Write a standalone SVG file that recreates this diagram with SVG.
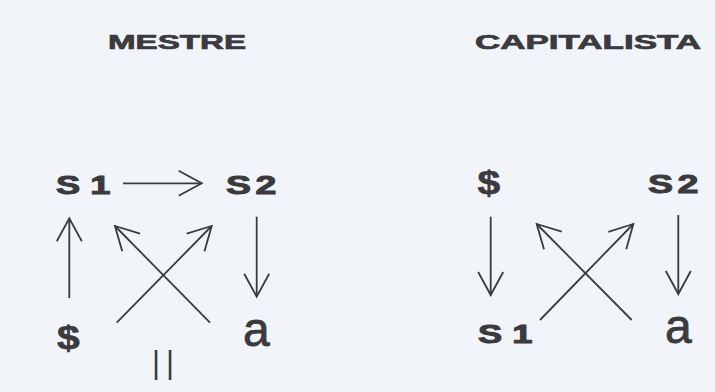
<svg xmlns="http://www.w3.org/2000/svg" width="715" height="392" viewBox="0 0 715 392">
  <style>
    .title { font-family: "Liberation Sans", Arial, sans-serif; font-weight: bold; font-size: 20px; fill: #3b3b3f; stroke: #3b3b3f; stroke-width: 0.7px; }
    .sym { font-family: "Liberation Sans", Arial, sans-serif; font-weight: bold; font-size: 25px; fill: #3b3b3f; stroke: #3b3b3f; stroke-width: 1px; }
    .dollar { font-family: "Liberation Sans", Arial, sans-serif; font-weight: bold; font-size: 34px; fill: #3b3b3f; stroke: #3b3b3f; stroke-width: 0.6px; }
    .obj { font-family: "Liberation Sans", Arial, sans-serif; font-size: 48px; fill: #3b3b3f; stroke: #3b3b3f; stroke-width: 0.8px; }
    .bar { font-family: "Liberation Sans", Arial, sans-serif; font-size: 31px; fill: #3b3b3f; letter-spacing: 6px; }
    .link { fill: none; stroke: #3b3b3f; stroke-width: 1.8; marker-end: url(#chevron); }
  </style>
  <defs>
    <marker id="chevron" viewBox="-26 -15 28 30" markerWidth="28" markerHeight="30" refX="0" refY="0" orient="auto" markerUnits="userSpaceOnUse" overflow="visible">
      <path d="M-23,-12.5 L0,0 L-23,12.5" fill="none" stroke="#3b3b3f" stroke-width="1.8" stroke-linejoin="miter"/>
    </marker>
  </defs>

  <rect width="715" height="392" fill="#f1f4f8"/>

  <!-- discourse titles -->
  <g id="title-mestre">
    <text class="title" x="108" y="48.5" textLength="138" lengthAdjust="spacingAndGlyphs">MESTRE</text>
  </g>
  <g id="title-capitalista">
    <text class="title" x="475" y="48.5" textLength="226" lengthAdjust="spacingAndGlyphs">CAPITALISTA</text>
  </g>

  <!-- master's discourse -->
  <g id="m-s1">
    <text class="sym" transform="translate(56,193.5) scale(1.45,1)">S<tspan dx="7">1</tspan></text>
  </g>
  <g id="m-s2">
    <text class="sym" transform="translate(226,193.5) scale(1.5,1)">S<tspan dx="3">2</tspan></text>
  </g>
  <g id="m-sbarre">
    <text class="dollar" transform="translate(57,348.5) scale(1.2,1)">$</text>
  </g>
  <g id="m-a">
    <text class="obj" x="243" y="346">a</text>
  </g>
  <g id="m-impossible">
    <text class="bar" x="152" y="373">||</text>
  </g>

  <!-- capitalist's discourse -->
  <g id="c-sbarre">
    <text class="dollar" transform="translate(477.5,194) scale(1.2,1)">$</text>
  </g>
  <g id="c-s2">
    <text class="sym" transform="translate(648,192.5) scale(1.5,1)">S<tspan dx="3">2</tspan></text>
  </g>
  <g id="c-s1">
    <text class="sym" transform="translate(478,342.5) scale(1.45,1)">S<tspan dx="7">1</tspan></text>
  </g>
  <g id="c-a">
    <text class="obj" x="665" y="342.5">a</text>
  </g>

  <!-- connectors -->
  <g id="connectors">
    <path class="link" d="M123,183.3 L201.7,183.3"/>
    <path class="link" d="M69.3,298 L69.3,218.3"/>
    <path class="link" d="M116.7,322.7 L211.7,226"/>
    <path class="link" d="M210,322.7 L115,226"/>
    <path class="link" d="M256.7,216.7 L256.7,296.7"/>

    <path class="link" d="M490.7,216.7 L490.7,295"/>
    <path class="link" d="M678.3,215 L678.3,294"/>
    <path class="link" d="M540,320 L633.3,224"/>
    <path class="link" d="M631.7,320 L536.7,224"/>
  </g>
</svg>
